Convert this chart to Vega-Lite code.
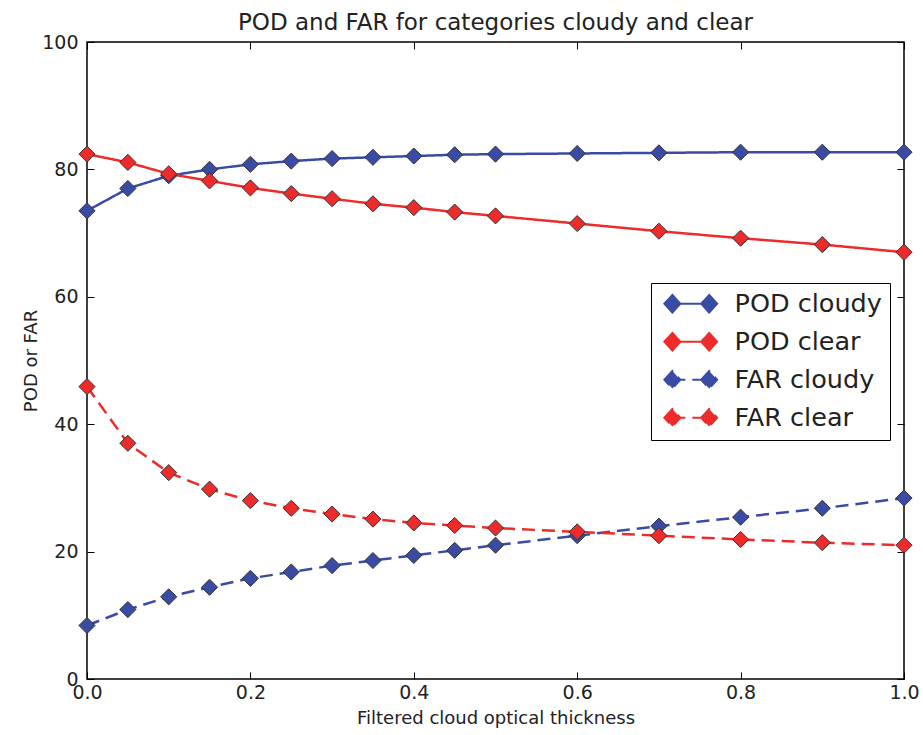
{
  "$schema": "https://vega.github.io/schema/vega-lite/v6.json",
  "autosize": {"type": "none"},
  "padding": {"left": 87, "top": 42, "right": 19, "bottom": 56},
  "width": 817,
  "height": 637,
  "background": "white",
  "title": {"text": "POD and FAR for categories cloudy and clear", "fontSize": 23, "fontWeight": "normal", "font": "DejaVu Sans", "color": "#222", "offset": -2},
  "config": {
    "view": {"stroke": "black", "strokeWidth": 1.5},
    "axis": {"grid": false, "domain": false, "tickColor": "black", "tickSize": -7, "tickWidth": 1, "labelFont": "DejaVu Sans", "labelFontSize": 19, "labelColor": "#222", "titleFont": "DejaVu Sans", "titleFontSize": 18, "titleFontWeight": "normal", "titleColor": "#222"}
  },
  "resolve": {"axis": {"x": "independent", "y": "independent"}},
  "data": {"values": [
    {"x": 0.0, "v": 73.5, "s": "POD cloudy"}, {"x": 0.05, "v": 77.0, "s": "POD cloudy"}, {"x": 0.1, "v": 79.0, "s": "POD cloudy"}, {"x": 0.15, "v": 80.0, "s": "POD cloudy"}, {"x": 0.2, "v": 80.8, "s": "POD cloudy"}, {"x": 0.25, "v": 81.3, "s": "POD cloudy"}, {"x": 0.3, "v": 81.7, "s": "POD cloudy"}, {"x": 0.35, "v": 81.9, "s": "POD cloudy"}, {"x": 0.4, "v": 82.1, "s": "POD cloudy"}, {"x": 0.45, "v": 82.3, "s": "POD cloudy"}, {"x": 0.5, "v": 82.4, "s": "POD cloudy"}, {"x": 0.6, "v": 82.5, "s": "POD cloudy"}, {"x": 0.7, "v": 82.6, "s": "POD cloudy"}, {"x": 0.8, "v": 82.7, "s": "POD cloudy"}, {"x": 0.9, "v": 82.7, "s": "POD cloudy"}, {"x": 1.0, "v": 82.7, "s": "POD cloudy"},
    {"x": 0.0, "v": 82.4, "s": "POD clear"}, {"x": 0.05, "v": 81.1, "s": "POD clear"}, {"x": 0.1, "v": 79.3, "s": "POD clear"}, {"x": 0.15, "v": 78.2, "s": "POD clear"}, {"x": 0.2, "v": 77.1, "s": "POD clear"}, {"x": 0.25, "v": 76.2, "s": "POD clear"}, {"x": 0.3, "v": 75.4, "s": "POD clear"}, {"x": 0.35, "v": 74.6, "s": "POD clear"}, {"x": 0.4, "v": 74.0, "s": "POD clear"}, {"x": 0.45, "v": 73.3, "s": "POD clear"}, {"x": 0.5, "v": 72.7, "s": "POD clear"}, {"x": 0.6, "v": 71.5, "s": "POD clear"}, {"x": 0.7, "v": 70.3, "s": "POD clear"}, {"x": 0.8, "v": 69.2, "s": "POD clear"}, {"x": 0.9, "v": 68.2, "s": "POD clear"}, {"x": 1.0, "v": 67.0, "s": "POD clear"},
    {"x": 0.0, "v": 8.4, "s": "FAR cloudy"}, {"x": 0.05, "v": 10.9, "s": "FAR cloudy"}, {"x": 0.1, "v": 12.9, "s": "FAR cloudy"}, {"x": 0.15, "v": 14.4, "s": "FAR cloudy"}, {"x": 0.2, "v": 15.8, "s": "FAR cloudy"}, {"x": 0.25, "v": 16.8, "s": "FAR cloudy"}, {"x": 0.3, "v": 17.8, "s": "FAR cloudy"}, {"x": 0.35, "v": 18.6, "s": "FAR cloudy"}, {"x": 0.4, "v": 19.4, "s": "FAR cloudy"}, {"x": 0.45, "v": 20.2, "s": "FAR cloudy"}, {"x": 0.5, "v": 21.0, "s": "FAR cloudy"}, {"x": 0.6, "v": 22.5, "s": "FAR cloudy"}, {"x": 0.7, "v": 24.0, "s": "FAR cloudy"}, {"x": 0.8, "v": 25.4, "s": "FAR cloudy"}, {"x": 0.9, "v": 26.8, "s": "FAR cloudy"}, {"x": 1.0, "v": 28.4, "s": "FAR cloudy"},
    {"x": 0.0, "v": 45.9, "s": "FAR clear"}, {"x": 0.05, "v": 37.0, "s": "FAR clear"}, {"x": 0.1, "v": 32.4, "s": "FAR clear"}, {"x": 0.15, "v": 29.8, "s": "FAR clear"}, {"x": 0.2, "v": 28.0, "s": "FAR clear"}, {"x": 0.25, "v": 26.8, "s": "FAR clear"}, {"x": 0.3, "v": 25.9, "s": "FAR clear"}, {"x": 0.35, "v": 25.1, "s": "FAR clear"}, {"x": 0.4, "v": 24.5, "s": "FAR clear"}, {"x": 0.45, "v": 24.1, "s": "FAR clear"}, {"x": 0.5, "v": 23.7, "s": "FAR clear"}, {"x": 0.6, "v": 23.1, "s": "FAR clear"}, {"x": 0.7, "v": 22.5, "s": "FAR clear"}, {"x": 0.8, "v": 21.9, "s": "FAR clear"}, {"x": 0.9, "v": 21.4, "s": "FAR clear"}, {"x": 1.0, "v": 21.0, "s": "FAR clear"}
  ]},
  "layer": [
    {
      "mark": {"type": "line", "strokeWidth": 2.5, "clip": false},
      "encoding": {
        "x": {"field": "x", "type": "quantitative", "scale": {"domain": [0, 1], "nice": false, "zero": false}, "axis": {"orient": "bottom", "title": "Filtered cloud optical thickness", "values": [0, 0.2, 0.4, 0.6, 0.8, 1.0], "format": ".1f", "labelPadding": 11, "titlePadding": 7, "labelFlush": false}},
        "y": {"field": "v", "type": "quantitative", "scale": {"domain": [0, 100], "nice": false}, "axis": {"orient": "left", "title": "POD or FAR", "values": [0, 20, 40, 60, 80, 100], "labelPadding": 16, "titlePadding": 1}},
        "color": {"field": "s", "type": "nominal", "sort": null, "scale": {"domain": ["POD cloudy", "POD clear", "FAR cloudy", "FAR clear"], "range": ["#3a4ba6", "#ee2b2b", "#3a4ba6", "#ee2b2b"]},
          "legend": {"title": null, "orient": "none", "legendX": 564, "legendY": 241, "padding": 8, "strokeColor": "black", "fillColor": "white", "cornerRadius": 0,
            "labelFont": "DejaVu Sans", "labelFontSize": 25.5, "labelColor": "#222", "rowPadding": 10,
            "symbolType": "M-3.3,0L-2.3,-1.1L-1.3,0L-2.3,1.1ZM-2.3,0L2.3,0M1.3,0L2.3,-1.1L3.3,0L2.3,1.1Z", "symbolSize": 256, "symbolStrokeWidth": 2, "symbolOffset": 19, "labelOffset": 31,
            "encode": {"symbols": {"update": {"fill": {"scale": "color", "field": "value"}, "stroke": {"scale": "color", "field": "value"}}}}}},
        "strokeDash": {"field": "s", "type": "nominal", "sort": null, "scale": {"domain": ["POD cloudy", "POD clear", "FAR cloudy", "FAR clear"], "range": [[1, 0], [1, 0], [13, 7], [13, 7]]}}
      }
    },
    {
      "mark": {"type": "point", "shape": "diamond", "filled": true, "size": 260, "opacity": 1, "stroke": "#333", "strokeWidth": 1, "clip": false},
      "encoding": {
        "x": {"field": "x", "type": "quantitative", "axis": {"orient": "top", "labels": false, "title": null, "values": [0, 0.2, 0.4, 0.6, 0.8, 1.0]}},
        "y": {"field": "v", "type": "quantitative", "axis": {"orient": "right", "labels": false, "title": null, "values": [0, 20, 40, 60, 80, 100]}},
        "fill": {"field": "s", "type": "nominal", "legend": null, "scale": {"domain": ["POD cloudy", "POD clear", "FAR cloudy", "FAR clear"], "range": ["#3a4ba6", "#ee2b2b", "#3a4ba6", "#ee2b2b"]}}
      }
    }
  ]
}
